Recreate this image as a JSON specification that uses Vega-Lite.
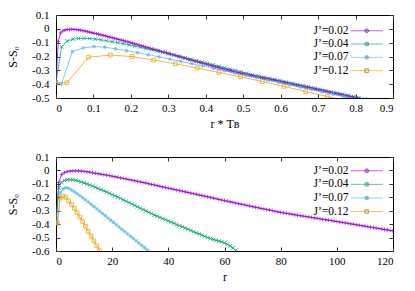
{
"$schema": "https://vega.github.io/schema/vega-lite/v6.json",
"background": "white",
"padding": {"left": 6, "top": 8, "right": 5, "bottom": 2},
"config": {
  "font": "Liberation Serif",
  "view": {"stroke": "black", "strokeWidth": 1},
  "axis": {"grid": false, "domain": false, "tickColor": "#333", "tickSize": -4, "labelFont": "Liberation Serif", "labelFontSize": 11, "labelColor": "black", "titleFont": "Liberation Serif", "titleFontSize": 12, "titleFontWeight": "normal", "titleColor": "black"},
  "axisX": {"labelPadding": 8.5},
  "axisY": {"labelPadding": 11},
  "legend": {"title": null, "orient": "none", "labelFontSize": 11.5, "labelFont": "Liberation Serif", "labelColor": "black", "padding": 0}
},
"data": {"values": [
{"J":"J’=0.02","r":0,"x":0,"S":-0.385},{"J":"J’=0.02","r":1,"x":0.006,"S":-0.09},{"J":"J’=0.02","r":2,"x":0.012,"S":-0.03},{"J":"J’=0.02","r":3,"x":0.018,"S":-0.015},{"J":"J’=0.02","r":4,"x":0.024,"S":-0.009},{"J":"J’=0.02","r":5,"x":0.03,"S":-0.005},{"J":"J’=0.02","r":6,"x":0.036,"S":-0.004},{"J":"J’=0.02","r":7,"x":0.042,"S":-0.003},{"J":"J’=0.02","r":8,"x":0.048,"S":-0.004},{"J":"J’=0.02","r":9,"x":0.054,"S":-0.005},
{"J":"J’=0.02","r":10,"x":0.06,"S":-0.007},{"J":"J’=0.02","r":11,"x":0.066,"S":-0.01},{"J":"J’=0.02","r":12,"x":0.072,"S":-0.013},{"J":"J’=0.02","r":13,"x":0.078,"S":-0.017},{"J":"J’=0.02","r":14,"x":0.084,"S":-0.021},{"J":"J’=0.02","r":15,"x":0.09,"S":-0.024},{"J":"J’=0.02","r":16,"x":0.096,"S":-0.028},{"J":"J’=0.02","r":17,"x":0.102,"S":-0.032},{"J":"J’=0.02","r":18,"x":0.108,"S":-0.035},{"J":"J’=0.02","r":19,"x":0.114,"S":-0.039},
{"J":"J’=0.02","r":20,"x":0.12,"S":-0.043},{"J":"J’=0.02","r":21,"x":0.126,"S":-0.047},{"J":"J’=0.02","r":22,"x":0.132,"S":-0.051},{"J":"J’=0.02","r":23,"x":0.138,"S":-0.056},{"J":"J’=0.02","r":24,"x":0.144,"S":-0.06},{"J":"J’=0.02","r":25,"x":0.15,"S":-0.064},{"J":"J’=0.02","r":26,"x":0.156,"S":-0.068},{"J":"J’=0.02","r":27,"x":0.162,"S":-0.072},{"J":"J’=0.02","r":28,"x":0.168,"S":-0.077},{"J":"J’=0.02","r":29,"x":0.174,"S":-0.081},
{"J":"J’=0.02","r":30,"x":0.18,"S":-0.085},{"J":"J’=0.02","r":31,"x":0.186,"S":-0.09},{"J":"J’=0.02","r":32,"x":0.192,"S":-0.094},{"J":"J’=0.02","r":33,"x":0.198,"S":-0.099},{"J":"J’=0.02","r":34,"x":0.204,"S":-0.104},{"J":"J’=0.02","r":35,"x":0.21,"S":-0.108},{"J":"J’=0.02","r":36,"x":0.216,"S":-0.113},{"J":"J’=0.02","r":37,"x":0.222,"S":-0.118},{"J":"J’=0.02","r":38,"x":0.228,"S":-0.123},{"J":"J’=0.02","r":39,"x":0.234,"S":-0.127},
{"J":"J’=0.02","r":40,"x":0.24,"S":-0.132},{"J":"J’=0.02","r":41,"x":0.246,"S":-0.137},{"J":"J’=0.02","r":42,"x":0.252,"S":-0.141},{"J":"J’=0.02","r":43,"x":0.258,"S":-0.146},{"J":"J’=0.02","r":44,"x":0.264,"S":-0.15},{"J":"J’=0.02","r":45,"x":0.27,"S":-0.155},{"J":"J’=0.02","r":46,"x":0.276,"S":-0.16},{"J":"J’=0.02","r":47,"x":0.282,"S":-0.164},{"J":"J’=0.02","r":48,"x":0.288,"S":-0.169},{"J":"J’=0.02","r":49,"x":0.294,"S":-0.173},
{"J":"J’=0.02","r":50,"x":0.3,"S":-0.178},{"J":"J’=0.02","r":51,"x":0.306,"S":-0.183},{"J":"J’=0.02","r":52,"x":0.312,"S":-0.187},{"J":"J’=0.02","r":53,"x":0.318,"S":-0.192},{"J":"J’=0.02","r":54,"x":0.324,"S":-0.197},{"J":"J’=0.02","r":55,"x":0.33,"S":-0.201},{"J":"J’=0.02","r":56,"x":0.336,"S":-0.206},{"J":"J’=0.02","r":57,"x":0.342,"S":-0.211},{"J":"J’=0.02","r":58,"x":0.348,"S":-0.216},{"J":"J’=0.02","r":59,"x":0.354,"S":-0.22},
{"J":"J’=0.02","r":60,"x":0.36,"S":-0.225},{"J":"J’=0.02","r":61,"x":0.366,"S":-0.229},{"J":"J’=0.02","r":62,"x":0.372,"S":-0.234},{"J":"J’=0.02","r":63,"x":0.378,"S":-0.238},{"J":"J’=0.02","r":64,"x":0.384,"S":-0.243},{"J":"J’=0.02","r":65,"x":0.39,"S":-0.247},{"J":"J’=0.02","r":66,"x":0.396,"S":-0.252},{"J":"J’=0.02","r":67,"x":0.402,"S":-0.256},{"J":"J’=0.02","r":68,"x":0.408,"S":-0.261},{"J":"J’=0.02","r":69,"x":0.414,"S":-0.265},
{"J":"J’=0.02","r":70,"x":0.42,"S":-0.27},{"J":"J’=0.02","r":71,"x":0.426,"S":-0.274},{"J":"J’=0.02","r":72,"x":0.432,"S":-0.278},{"J":"J’=0.02","r":73,"x":0.438,"S":-0.283},{"J":"J’=0.02","r":74,"x":0.444,"S":-0.287},{"J":"J’=0.02","r":75,"x":0.45,"S":-0.291},{"J":"J’=0.02","r":76,"x":0.456,"S":-0.295},{"J":"J’=0.02","r":77,"x":0.462,"S":-0.299},{"J":"J’=0.02","r":78,"x":0.468,"S":-0.304},{"J":"J’=0.02","r":79,"x":0.474,"S":-0.308},
{"J":"J’=0.02","r":80,"x":0.48,"S":-0.312},{"J":"J’=0.02","r":81,"x":0.486,"S":-0.316},{"J":"J’=0.02","r":82,"x":0.492,"S":-0.319},{"J":"J’=0.02","r":83,"x":0.498,"S":-0.323},{"J":"J’=0.02","r":84,"x":0.504,"S":-0.326},{"J":"J’=0.02","r":85,"x":0.51,"S":-0.33},{"J":"J’=0.02","r":86,"x":0.516,"S":-0.333},{"J":"J’=0.02","r":87,"x":0.522,"S":-0.337},{"J":"J’=0.02","r":88,"x":0.528,"S":-0.34},{"J":"J’=0.02","r":89,"x":0.534,"S":-0.344},
{"J":"J’=0.02","r":90,"x":0.54,"S":-0.347},{"J":"J’=0.02","r":91,"x":0.546,"S":-0.35},{"J":"J’=0.02","r":92,"x":0.552,"S":-0.354},{"J":"J’=0.02","r":93,"x":0.558,"S":-0.357},{"J":"J’=0.02","r":94,"x":0.564,"S":-0.36},{"J":"J’=0.02","r":95,"x":0.57,"S":-0.364},{"J":"J’=0.02","r":96,"x":0.576,"S":-0.367},{"J":"J’=0.02","r":97,"x":0.582,"S":-0.37},{"J":"J’=0.02","r":98,"x":0.588,"S":-0.373},{"J":"J’=0.02","r":99,"x":0.594,"S":-0.377},
{"J":"J’=0.02","r":100,"x":0.6,"S":-0.38},{"J":"J’=0.02","r":101,"x":0.606,"S":-0.384},{"J":"J’=0.02","r":102,"x":0.612,"S":-0.387},{"J":"J’=0.02","r":103,"x":0.618,"S":-0.391},{"J":"J’=0.02","r":104,"x":0.624,"S":-0.394},{"J":"J’=0.02","r":105,"x":0.63,"S":-0.398},{"J":"J’=0.02","r":106,"x":0.636,"S":-0.401},{"J":"J’=0.02","r":107,"x":0.642,"S":-0.405},{"J":"J’=0.02","r":108,"x":0.648,"S":-0.408},{"J":"J’=0.02","r":109,"x":0.654,"S":-0.412},
{"J":"J’=0.02","r":110,"x":0.66,"S":-0.415},{"J":"J’=0.02","r":111,"x":0.666,"S":-0.419},{"J":"J’=0.02","r":112,"x":0.672,"S":-0.422},{"J":"J’=0.02","r":113,"x":0.678,"S":-0.426},{"J":"J’=0.02","r":114,"x":0.684,"S":-0.429},{"J":"J’=0.02","r":115,"x":0.69,"S":-0.433},{"J":"J’=0.02","r":116,"x":0.696,"S":-0.436},{"J":"J’=0.02","r":117,"x":0.702,"S":-0.44},{"J":"J’=0.02","r":118,"x":0.708,"S":-0.443},{"J":"J’=0.02","r":119,"x":0.714,"S":-0.447},
{"J":"J’=0.02","r":120,"x":0.72,"S":-0.45},{"J":"J’=0.02","r":121,"x":0.726,"S":-0.454},{"J":"J’=0.02","r":122,"x":0.732,"S":-0.457},{"J":"J’=0.02","r":123,"x":0.738,"S":-0.461},{"J":"J’=0.02","r":124,"x":0.744,"S":-0.464},{"J":"J’=0.02","r":125,"x":0.75,"S":-0.468},{"J":"J’=0.02","r":126,"x":0.756,"S":-0.471},{"J":"J’=0.02","r":127,"x":0.762,"S":-0.475},{"J":"J’=0.02","r":128,"x":0.768,"S":-0.478},{"J":"J’=0.02","r":129,"x":0.774,"S":-0.482},
{"J":"J’=0.02","r":130,"x":0.78,"S":-0.485},{"J":"J’=0.02","r":131,"x":0.786,"S":-0.489},{"J":"J’=0.02","r":132,"x":0.792,"S":-0.492},{"J":"J’=0.02","r":133,"x":0.798,"S":-0.496},{"J":"J’=0.02","r":134,"x":0.804,"S":-0.499},{"J":"J’=0.02","r":135,"x":0.81,"S":-0.503},
{"J":"J’=0.04","r":0,"x":0,"S":-0.385},{"J":"J’=0.04","r":1,"x":0.015,"S":-0.13},{"J":"J’=0.04","r":2,"x":0.03,"S":-0.088},{"J":"J’=0.04","r":3,"x":0.045,"S":-0.075},{"J":"J’=0.04","r":4,"x":0.06,"S":-0.07},{"J":"J’=0.04","r":5,"x":0.075,"S":-0.069},{"J":"J’=0.04","r":6,"x":0.09,"S":-0.07},{"J":"J’=0.04","r":7,"x":0.105,"S":-0.074},{"J":"J’=0.04","r":8,"x":0.12,"S":-0.079},{"J":"J’=0.04","r":9,"x":0.135,"S":-0.086},
{"J":"J’=0.04","r":10,"x":0.15,"S":-0.093},{"J":"J’=0.04","r":11,"x":0.165,"S":-0.1},{"J":"J’=0.04","r":12,"x":0.18,"S":-0.108},{"J":"J’=0.04","r":13,"x":0.195,"S":-0.116},{"J":"J’=0.04","r":14,"x":0.21,"S":-0.125},{"J":"J’=0.04","r":15,"x":0.225,"S":-0.134},{"J":"J’=0.04","r":16,"x":0.24,"S":-0.143},{"J":"J’=0.04","r":17,"x":0.255,"S":-0.151},{"J":"J’=0.04","r":18,"x":0.27,"S":-0.16},{"J":"J’=0.04","r":19,"x":0.285,"S":-0.17},
{"J":"J’=0.04","r":20,"x":0.3,"S":-0.179},{"J":"J’=0.04","r":21,"x":0.315,"S":-0.189},{"J":"J’=0.04","r":22,"x":0.33,"S":-0.199},{"J":"J’=0.04","r":23,"x":0.345,"S":-0.209},{"J":"J’=0.04","r":24,"x":0.36,"S":-0.22},{"J":"J’=0.04","r":25,"x":0.375,"S":-0.23},{"J":"J’=0.04","r":26,"x":0.39,"S":-0.24},{"J":"J’=0.04","r":27,"x":0.405,"S":-0.25},{"J":"J’=0.04","r":28,"x":0.42,"S":-0.26},{"J":"J’=0.04","r":29,"x":0.435,"S":-0.271},
{"J":"J’=0.04","r":30,"x":0.45,"S":-0.281},{"J":"J’=0.04","r":31,"x":0.465,"S":-0.291},{"J":"J’=0.04","r":32,"x":0.48,"S":-0.301},{"J":"J’=0.04","r":33,"x":0.495,"S":-0.311},{"J":"J’=0.04","r":34,"x":0.51,"S":-0.322},{"J":"J’=0.04","r":35,"x":0.525,"S":-0.332},{"J":"J’=0.04","r":36,"x":0.54,"S":-0.341},{"J":"J’=0.04","r":37,"x":0.555,"S":-0.35},{"J":"J’=0.04","r":38,"x":0.57,"S":-0.359},{"J":"J’=0.04","r":39,"x":0.585,"S":-0.367},
{"J":"J’=0.04","r":40,"x":0.6,"S":-0.376},{"J":"J’=0.04","r":41,"x":0.615,"S":-0.385},{"J":"J’=0.04","r":42,"x":0.63,"S":-0.394},{"J":"J’=0.04","r":43,"x":0.645,"S":-0.403},{"J":"J’=0.04","r":44,"x":0.66,"S":-0.412},{"J":"J’=0.04","r":45,"x":0.675,"S":-0.42},{"J":"J’=0.04","r":46,"x":0.69,"S":-0.429},{"J":"J’=0.04","r":47,"x":0.705,"S":-0.438},{"J":"J’=0.04","r":48,"x":0.72,"S":-0.447},{"J":"J’=0.04","r":49,"x":0.735,"S":-0.456},
{"J":"J’=0.04","r":50,"x":0.75,"S":-0.465},{"J":"J’=0.04","r":51,"x":0.765,"S":-0.473},{"J":"J’=0.04","r":52,"x":0.78,"S":-0.482},{"J":"J’=0.04","r":53,"x":0.795,"S":-0.491},{"J":"J’=0.04","r":54,"x":0.81,"S":-0.5},{"J":"J’=0.04","r":55,"x":0.825,"S":-0.507},{"J":"J’=0.04","r":56,"x":0.84,"S":-0.514},{"J":"J’=0.04","r":57,"x":0.855,"S":-0.52},{"J":"J’=0.04","r":58,"x":0.87,"S":-0.526},{"J":"J’=0.04","r":59,"x":0.885,"S":-0.532},
{"J":"J’=0.04","r":60,"x":0.9,"S":-0.54},{"J":"J’=0.04","r":61,"x":0.915,"S":-0.55},{"J":"J’=0.04","r":62,"x":0.93,"S":-0.562},{"J":"J’=0.04","r":63,"x":0.945,"S":-0.578},{"J":"J’=0.04","r":64,"x":0.96,"S":-0.596},{"J":"J’=0.04","r":65,"x":0.975,"S":-0.615},
{"J":"J’=0.07","r":0,"x":0,"S":-0.385},{"J":"J’=0.07","r":0.5,"x":0.0145,"S":-0.4},{"J":"J’=0.07","r":1.5,"x":0.0435,"S":-0.165},{"J":"J’=0.07","r":2.5,"x":0.0725,"S":-0.138},{"J":"J’=0.07","r":3.5,"x":0.1015,"S":-0.128},{"J":"J’=0.07","r":4.5,"x":0.1305,"S":-0.133},{"J":"J’=0.07","r":5.5,"x":0.1595,"S":-0.145},{"J":"J’=0.07","r":6.5,"x":0.1885,"S":-0.158},{"J":"J’=0.07","r":7.5,"x":0.2175,"S":-0.172},{"J":"J’=0.07","r":8.5,"x":0.2465,"S":-0.187},
{"J":"J’=0.07","r":9.5,"x":0.2755,"S":-0.203},{"J":"J’=0.07","r":10.5,"x":0.3045,"S":-0.219},{"J":"J’=0.07","r":11.5,"x":0.3335,"S":-0.236},{"J":"J’=0.07","r":12.5,"x":0.3625,"S":-0.252},{"J":"J’=0.07","r":13.5,"x":0.3915,"S":-0.269},{"J":"J’=0.07","r":14.5,"x":0.4205,"S":-0.286},{"J":"J’=0.07","r":15.5,"x":0.4495,"S":-0.303},{"J":"J’=0.07","r":16.5,"x":0.4785,"S":-0.32},{"J":"J’=0.07","r":17.5,"x":0.5075,"S":-0.337},{"J":"J’=0.07","r":18.5,"x":0.5365,"S":-0.354},
{"J":"J’=0.07","r":19.5,"x":0.5655,"S":-0.371},{"J":"J’=0.07","r":20.5,"x":0.5945,"S":-0.388},{"J":"J’=0.07","r":21.5,"x":0.6235,"S":-0.405},{"J":"J’=0.07","r":22.5,"x":0.6525,"S":-0.422},{"J":"J’=0.07","r":23.5,"x":0.6815,"S":-0.439},{"J":"J’=0.07","r":24.5,"x":0.7105,"S":-0.456},{"J":"J’=0.07","r":25.5,"x":0.7395,"S":-0.473},{"J":"J’=0.07","r":26.5,"x":0.7685,"S":-0.49},{"J":"J’=0.07","r":27.5,"x":0.7975,"S":-0.507},{"J":"J’=0.07","r":28.5,"x":0.8265,"S":-0.524},
{"J":"J’=0.07","r":29.5,"x":0.8555,"S":-0.541},{"J":"J’=0.07","r":30.5,"x":0.8845,"S":-0.558},{"J":"J’=0.07","r":31.5,"x":0.9135,"S":-0.575},{"J":"J’=0.07","r":32.5,"x":0.9425,"S":-0.592},{"J":"J’=0.07","r":33.5,"x":0.9715,"S":-0.609},
{"J":"J’=0.12","r":0,"x":0,"S":-0.39},{"J":"J’=0.12","r":0.5,"x":0.029,"S":-0.39},{"J":"J’=0.12","r":1.5,"x":0.087,"S":-0.205},{"J":"J’=0.12","r":2.5,"x":0.145,"S":-0.19},{"J":"J’=0.12","r":3.5,"x":0.203,"S":-0.2},{"J":"J’=0.12","r":4.5,"x":0.261,"S":-0.226},{"J":"J’=0.12","r":5.5,"x":0.319,"S":-0.253},{"J":"J’=0.12","r":6.5,"x":0.377,"S":-0.283},{"J":"J’=0.12","r":7.5,"x":0.435,"S":-0.315},
{"J":"J’=0.12","r":8.5,"x":0.493,"S":-0.347},{"J":"J’=0.12","r":9.5,"x":0.551,"S":-0.381},{"J":"J’=0.12","r":10.5,"x":0.609,"S":-0.416},{"J":"J’=0.12","r":11.5,"x":0.667,"S":-0.454},{"J":"J’=0.12","r":12.5,"x":0.725,"S":-0.489},{"J":"J’=0.12","r":13.5,"x":0.783,"S":-0.525},{"J":"J’=0.12","r":14.5,"x":0.841,"S":-0.561},{"J":"J’=0.12","r":15.5,"x":0.899,"S":-0.597},{"J":"J’=0.12","r":16.5,"x":0.957,"S":-0.633}
]},
"spacing": 20,
"resolve": {"scale": {"color": "independent", "shape": "independent"}},
"vconcat": [
{
  "width": 337, "height": 83,
  "layer": [
    {"mark": {"type": "line", "clip": true, "strokeWidth": 1, "opacity": 0.75},
     "encoding": {
       "x": {"field": "x", "type": "quantitative", "scale": {"domain": [0, 0.9], "nice": false, "zero": false},
             "axis": {"values": [0,0.1,0.2,0.3,0.4,0.5,0.6,0.7,0.8,0.9], "title": "r * Tʙ", "titlePadding": 5,
                      "labelExpr": "datum.value == 0 ? '0' : replace(format(datum.value, '.1f'), '\u2212', '-')"}},
       "y": {"field": "S", "type": "quantitative", "scale": {"domain": [-0.5, 0.1], "nice": false, "zero": false},
             "axis": {"values": [-0.5,-0.4,-0.3,-0.2,-0.1,0,0.1], "title": "S-S₀", "titlePadding": 12,
                      "labelExpr": "datum.value == 0 ? '0' : replace(format(datum.value, '.1f'), '\u2212', '-')"}},
       "color": {"field": "J", "type": "nominal",
                 "scale": {"domain": ["J’=0.02","J’=0.04","J’=0.07","J’=0.12"], "range": ["#9400d3","#009e73","#56b4e9","#e69f00"]},
                 "legend": {"legendX": 305, "legendY": 10, "symbolType": "M-8,0L8,0", "symbolSize": 16, "symbolStrokeWidth": 1, "symbolOpacity": 0.6, "labelAlign": "right", "labelOffset": -24, "rowPadding": 0.3}}
     }},
    {"mark": {"type": "point", "clip": true, "filled": false, "size": 14, "strokeWidth": 0.9, "opacity": 0.8},
     "encoding": {
       "x": {"field": "x", "type": "quantitative", "axis": {"orient": "top", "values": [0,0.1,0.2,0.3,0.4,0.5,0.6,0.7,0.8,0.9], "labels": false, "title": null}},
       "y": {"field": "S", "type": "quantitative", "axis": {"orient": "right", "values": [-0.5,-0.4,-0.3,-0.2,-0.1,0,0.1], "labels": false, "title": null}},
       "color": {"field": "J", "type": "nominal",
                 "scale": {"domain": ["J’=0.02","J’=0.04","J’=0.07","J’=0.12"], "range": ["#9400d3","#009e73","#56b4e9","#e69f00"]},
                 "legend": {"legendX": 305, "legendY": 10, "symbolSize": 14, "symbolStrokeWidth": 0.9, "symbolOpacity": 0.8, "labelAlign": "left", "labelOffset": 0, "labelExpr": "''", "rowPadding": 0.3}},
       "shape": {"field": "J", "type": "nominal",
                 "scale": {"domain": ["J’=0.02","J’=0.04","J’=0.07","J’=0.12"], "range": ["M-1,0L1,0M0,-1L0,1","M-1,-1L1,1M-1,1L1,-1","M-1,0L1,0M0,-1L0,1M-0.7,-0.7L0.7,0.7M-0.7,0.7L0.7,-0.7","square"]},
                 "legend": {"legendX": 305, "legendY": 10, "symbolSize": 14, "symbolStrokeWidth": 0.9, "symbolOpacity": 0.8, "labelAlign": "left", "labelOffset": 0, "labelExpr": "''", "rowPadding": 0.3}}
     }}
  ],
  "resolve": {"axis": {"x": "independent", "y": "independent"}, "scale": {"color": "independent"}}
},
{
  "width": 337, "height": 94,
  "layer": [
    {"mark": {"type": "line", "clip": true, "strokeWidth": 1, "opacity": 0.75},
     "encoding": {
       "x": {"field": "r", "type": "quantitative", "scale": {"domain": [0, 120], "nice": false, "zero": false},
             "axis": {"values": [0,20,40,60,80,100,120], "title": "r", "titlePadding": 5}},
       "y": {"field": "S", "type": "quantitative", "scale": {"domain": [-0.6, 0.1], "nice": false, "zero": false},
             "axis": {"values": [-0.6,-0.5,-0.4,-0.3,-0.2,-0.1,0,0.1], "title": "S-S₀", "titlePadding": 12,
                      "labelExpr": "datum.value == 0 ? '0' : replace(format(datum.value, '.1f'), '\u2212', '-')"}},
       "color": {"field": "J", "type": "nominal",
                 "scale": {"domain": ["J’=0.02","J’=0.04","J’=0.07","J’=0.12"], "range": ["#9400d3","#009e73","#56b4e9","#e69f00"]},
                 "legend": {"legendX": 305, "legendY": 8, "symbolType": "M-8,0L8,0", "symbolSize": 16, "symbolStrokeWidth": 1, "symbolOpacity": 0.6, "labelAlign": "right", "labelOffset": -24, "rowPadding": 0.6}}
     }},
    {"mark": {"type": "point", "clip": true, "filled": false, "size": 14, "strokeWidth": 0.9, "opacity": 0.8},
     "encoding": {
       "x": {"field": "r", "type": "quantitative", "axis": {"orient": "top", "values": [0,20,40,60,80,100,120], "labels": false, "title": null}},
       "y": {"field": "S", "type": "quantitative", "axis": {"orient": "right", "values": [-0.6,-0.5,-0.4,-0.3,-0.2,-0.1,0,0.1], "labels": false, "title": null}},
       "color": {"field": "J", "type": "nominal",
                 "scale": {"domain": ["J’=0.02","J’=0.04","J’=0.07","J’=0.12"], "range": ["#9400d3","#009e73","#56b4e9","#e69f00"]},
                 "legend": {"legendX": 305, "legendY": 8, "symbolSize": 14, "symbolStrokeWidth": 0.9, "symbolOpacity": 0.8, "labelAlign": "left", "labelOffset": 0, "labelExpr": "''", "rowPadding": 0.6}},
       "shape": {"field": "J", "type": "nominal",
                 "scale": {"domain": ["J’=0.02","J’=0.04","J’=0.07","J’=0.12"], "range": ["M-1,0L1,0M0,-1L0,1","M-1,-1L1,1M-1,1L1,-1","M-1,0L1,0M0,-1L0,1M-0.7,-0.7L0.7,0.7M-0.7,0.7L0.7,-0.7","square"]},
                 "legend": {"legendX": 305, "legendY": 8, "symbolSize": 14, "symbolStrokeWidth": 0.9, "symbolOpacity": 0.8, "labelAlign": "left", "labelOffset": 0, "labelExpr": "''", "rowPadding": 0.6}}
     }}
  ],
  "resolve": {"axis": {"x": "independent", "y": "independent"}, "scale": {"color": "independent"}}
}
]
}
